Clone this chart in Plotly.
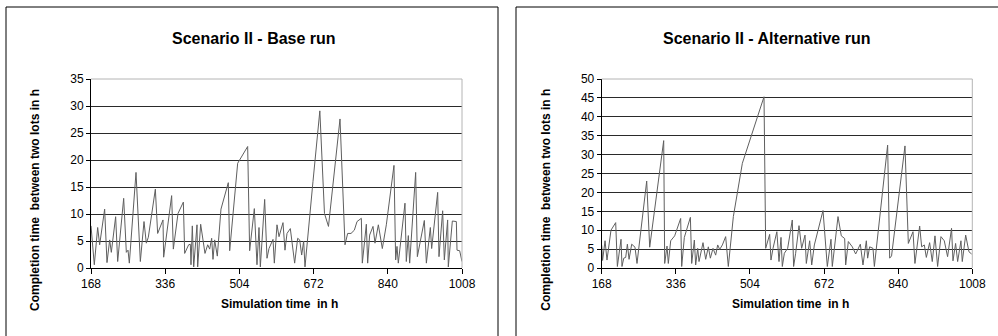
import plotly.graph_objects as go

W, H = 998, 336

# ---- data ----
base_t = [168.0, 175.5, 183.1, 187.6, 198.9, 204.2, 210.3, 214.0, 223.8, 228.4, 242.0, 248.0, 251.8, 254.8,
          269.9, 279.7, 288.0, 293.3, 297.8, 313.7, 318.9, 331.0, 332.5, 350.6, 354.4, 365.0, 377.1, 380.1,
          389.1, 392.9, 394.4, 397.4, 400.5, 403.5, 408.0, 409.5, 416.3, 426.1, 432.2, 436.7, 441.2, 444.2,
          448.0, 454.0, 462.3, 478.9, 482.0, 500.1, 522.7, 527.2, 537.8, 543.8, 548.4, 551.4, 561.2, 566.5,
          571.0, 580.1, 583.1, 589.1, 593.7, 602.7, 607.2, 611.8, 619.3, 629.1, 635.9, 640.5, 645.0, 649.5,
          652.5, 670.6, 686.1, 696.6, 705.7, 731.8, 743.1, 749.1, 756.7, 764.2, 770.3, 780.1, 782.3, 791.4,
          794.4, 798.9, 806.5, 811.0, 818.6, 827.6, 836.7, 854.0, 857.8, 860.8, 863.8, 878.9, 881.9, 886.5,
          889.5, 903.1, 906.9, 922.7, 927.3, 936.3, 939.3, 952.9, 955.9, 964.2, 968.0, 975.5, 977.0, 986.1,
          995.2, 996.7, 1002.7, 1008.0]
base_v = [7.8, 0.6, 7.5, 4.3, 10.9, 1.0, 5.2, 2.9, 9.5, 1.2, 12.9, 2.9, 3.3, 0.9,
          17.7, 1.2, 8.6, 4.6, 5.7, 14.6, 6.4, 8.9, 2.0, 13.4, 3.5, 10.1, 12.2, 2.7,
          4.3, 4.4, 0.6, 7.8, 0.2, 4.0, 8.0, 0.2, 8.1, 2.7, 4.3, 3.5, 5.5, 1.6,
          5.2, 2.2, 10.9, 15.8, 3.2, 19.4, 22.5, 3.2, 11.0, 0.6, 7.5, 0.2, 12.7, 1.8,
          3.6, 5.3, 0.9, 8.0, 5.8, 8.4, 3.3, 6.4, 7.3, 0.9, 5.5, 5.2, 2.4, 5.0,
          0.2, 16.0, 29.1, 10.1, 7.7, 27.6, 4.3, 6.4, 6.4, 7.0, 8.6, 9.2, 0.9, 8.1,
          0.9, 6.1, 7.7, 4.6, 8.0, 3.6, 8.0, 19.0, 1.5, 4.0, 0.9, 12.0, 1.2, 6.0,
          0.9, 17.7, 2.1, 8.8, 0.9, 7.5, 3.6, 14.0, 2.1, 10.6, 1.5, 8.9, 0.2, 8.7,
          8.6, 3.3, 3.2, 1.2]

alt_t = [168.0, 170.0, 175.6, 180.0, 189.0, 199.7, 203.5, 211.8, 214.0, 218.0, 222.4, 226.2, 230.0, 236.0,
         243.5, 248.0, 270.0, 276.8, 308.5, 310.8, 316.0, 319.0, 324.4, 333.4, 347.0, 349.3, 355.3, 369.0,
         372.0, 378.0, 381.0, 385.6, 388.6, 397.6, 403.7, 409.7, 414.3, 420.3, 426.3, 430.9, 435.4, 441.5,
         449.0, 455.0, 466.4, 486.8, 535.9, 539.7, 548.7, 551.7, 556.3, 565.0, 569.9, 574.4, 577.4, 582.0,
         589.5, 600.0, 603.0, 607.6, 615.2, 621.2, 628.8, 631.8, 639.4, 644.0, 650.0, 669.6, 679.4, 687.7,
         690.7, 703.6, 711.1, 718.7, 721.0, 727.0, 736.0, 743.6, 754.2, 760.2, 767.8, 770.8, 775.3, 782.9,
         786.0, 816.1, 820.7, 825.0, 855.4, 863.0, 873.6, 878.0, 888.7, 893.2, 899.2, 903.8, 911.3, 917.3,
         923.4, 929.4, 937.0, 944.5, 952.0, 961.0, 964.2, 970.2, 974.8, 982.3, 985.3, 993.0, 1000.4, 1006.5]
alt_v = [6.0, 2.0, 7.2, 2.1, 10.0, 12.0, 0.4, 7.6, 0.4, 2.6, 2.8, 6.3, 2.3, 6.3,
         5.5, 1.2, 23.0, 5.5, 33.7, 1.2, 5.8, 1.2, 7.2, 8.5, 13.1, 0.4, 8.1, 13.4,
         1.2, 7.4, 0.8, 5.2, 1.7, 6.7, 2.3, 5.6, 2.6, 5.2, 3.4, 6.1, 4.9, 6.1,
         8.3, 0.4, 13.6, 27.7, 45.3, 5.2, 8.9, 2.1, 5.2, 9.6, 1.7, 8.1, 0.4, 3.9,
         5.2, 12.7, 0.4, 3.9, 11.2, 5.2, 8.7, 1.2, 7.2, 0.8, 6.1, 15.2, 0.4, 7.6,
         0.4, 13.6, 8.5, 7.8, 0.8, 7.0, 5.6, 3.7, 6.3, 0.8, 7.2, 2.6, 5.6, 5.2,
         0.4, 32.5, 2.6, 3.2, 32.3, 6.5, 9.6, 1.2, 11.1, 5.6, 6.1, 2.8, 6.7, 1.7,
         8.5, 0.4, 8.3, 7.2, 3.0, 10.5, 1.9, 6.5, 1.7, 7.2, 1.7, 8.7, 4.3, 3.7]

x_ticks = [168, 336, 504, 672, 840, 1008]
titles = ["Scenario II - Base run", "Scenario II - Alternative run"]
x_title = "Simulation time  in h"
y_title = "Completion time  between two lots in h"
y_max = [35, 50]

FONT = "Liberation Sans, Arial, sans-serif"

def px_x(p):
    return min(max(p / W, 0.0), 1.0)

def px_y(p):
    return min(max(1 - p / H, 0.0), 1.0)

fig = go.Figure()
fig.add_trace(go.Scatter(x=base_t, y=base_v, mode="lines", xaxis="x", yaxis="y",
                         line=dict(color="#5f5f5f", width=1), showlegend=False, hoverinfo="skip"))
fig.add_trace(go.Scatter(x=alt_t, y=alt_v, mode="lines", xaxis="x2", yaxis="y2",
                         line=dict(color="#5f5f5f", width=1), showlegend=False, hoverinfo="skip"))

plot_top, plot_bot = 79, 268
plot_y = [px_y(plot_bot), px_y(plot_top)]
plot_l = [91, 601.7]
plot_r = [462, 972.3]
xdom = [[px_x(plot_l[0]), px_x(plot_r[0])], [px_x(plot_l[1]), px_x(plot_r[1])]]

def xax(i):
    return dict(domain=xdom[i], range=[168, 1008], tickvals=x_ticks, ticks="outside", ticklen=5,
                tickcolor="black", showline=True, linecolor="black", linewidth=1, showgrid=False,
                zeroline=False, automargin=False,
                tickfont=dict(family=FONT, size=12, color="black"), fixedrange=True,
                anchor="y" if i == 0 else "y2")

def yax(i):
    return dict(domain=plot_y, range=[0, y_max[i]], dtick=5, ticks="outside", ticklen=4,
                tickcolor="black", showline=True, linecolor="black", linewidth=1, showgrid=True,
                gridcolor="#2a2a2a", gridwidth=1, zeroline=False, automargin=False,
                tickfont=dict(family=FONT, size=12, color="black"), fixedrange=True,
                anchor="x" if i == 0 else "x2")

def seg(x0, y0, x1, y1, color, layer):
    return dict(type="line", xref="paper", yref="paper", x0=px_x(x0), x1=px_x(x1),
                y0=px_y(y0), y1=px_y(y1), line=dict(color=color, width=1), layer=layer)

shapes = []
# outer panel frames (left panel: left/top/right; right panel: left/top, runs off the image)
shapes.append(seg(6, 7, 6, H, "black", "below"))
shapes.append(seg(6, 7, 498, 7, "black", "below"))
shapes.append(seg(498, 7, 498, H, "black", "below"))
shapes.append(seg(516, 7, 516, H, "black", "below"))
shapes.append(seg(516, 7, W, 7, "black", "below"))
# plot-area borders (grey top and right edges)
for i in range(2):
    shapes.append(seg(plot_l[i], plot_top, plot_r[i], plot_top, "#b4b4b4", "above"))
    shapes.append(seg(plot_r[i], plot_top, plot_r[i], plot_bot, "#b4b4b4", "above"))

annotations = []
title_cx = [254, 766]
ytitle_cx = [35, 545.7]
xtitle_cx = [279, 790.7]
for i in range(2):
    annotations.append(dict(text="<b>%s</b>" % titles[i], x=px_x(title_cx[i]), y=px_y(38),
                            xref="paper", yref="paper", showarrow=False, xanchor="center", yanchor="middle",
                            font=dict(family=FONT, size=16, color="black")))
    annotations.append(dict(text="<b>%s</b>" % x_title, x=px_x(xtitle_cx[i]), y=px_y(304),
                            xref="paper", yref="paper", showarrow=False, xanchor="center", yanchor="middle",
                            font=dict(family=FONT, size=12, color="black")))
    annotations.append(dict(text="<b>%s</b>" % y_title, x=px_x(ytitle_cx[i]), y=px_y(200),
                            xref="paper", yref="paper", showarrow=False, xanchor="center", yanchor="middle",
                            textangle=-90, font=dict(family=FONT, size=12, color="black")))

fig.update_layout(
    template="none",
    width=W, height=H, autosize=False, margin=dict(l=0, r=0, t=0, b=0, pad=0),
    paper_bgcolor="white", plot_bgcolor="white",
    font=dict(family=FONT, color="black"),
    xaxis=xax(0), xaxis2=xax(1), yaxis=yax(0), yaxis2=yax(1),
    shapes=shapes, annotations=annotations, showlegend=False,
)

fig.write_html("out.html", config={"displayModeBar": False, "responsive": False})
